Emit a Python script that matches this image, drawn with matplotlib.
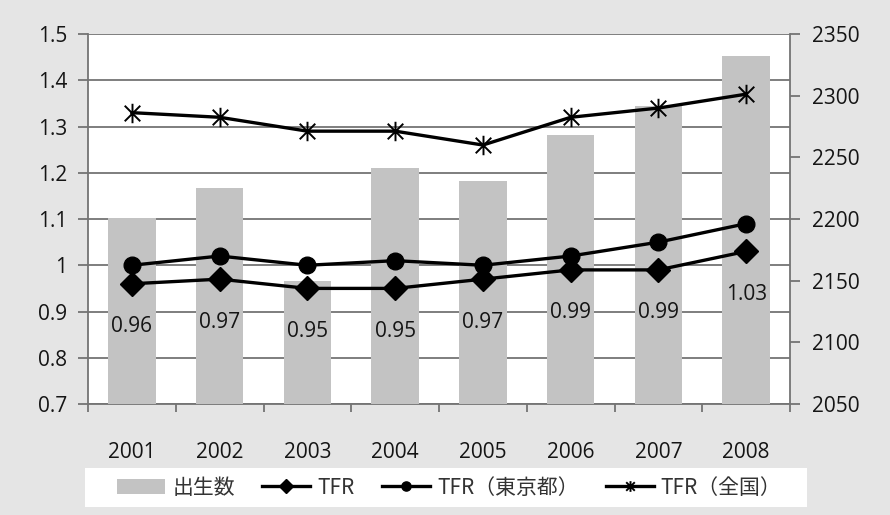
import matplotlib
matplotlib.use("Agg")
import matplotlib.pyplot as plt
from matplotlib.path import Path
from matplotlib.patches import Rectangle

# Data
years = ["2001", "2002", "2003", "2004", "2005", "2006", "2007", "2008"]
births = [2201, 2225, 2150, 2241, 2231, 2268, 2292, 2332]
tfr = [0.96, 0.97, 0.95, 0.95, 0.97, 0.99, 0.99, 1.03]
tfr_tokyo = [1.00, 1.02, 1.00, 1.01, 1.00, 1.02, 1.05, 1.09]
tfr_japan = [1.33, 1.32, 1.29, 1.29, 1.26, 1.32, 1.34, 1.37]
tfr_labels = ["0.96", "0.97", "0.95", "0.95", "0.97", "0.99", "0.99", "1.03"]

NUM_FONT = "Open Sans"
JP_FONT = ["Noto Sans CJK JP", "DejaVu Sans"]
GRID = "#747474"
BAR = "#c3c3c3"
TXT = "#151515"

# Excel style star marker: an X plus a vertical stroke
star = Path([(-1, -1), (1, 1), (-1, 1), (1, -1), (0, -1.25), (0, 1.25)],
            [Path.MOVETO, Path.LINETO, Path.MOVETO, Path.LINETO,
             Path.MOVETO, Path.LINETO])

fig = plt.figure(figsize=(8.9, 5.15), dpi=100, facecolor="#e5e5e5")
# white band behind the legend
fig.add_artist(Rectangle((0.095, 0.015), 0.812, 0.077, transform=fig.transFigure,
                         facecolor="white", edgecolor="none", zorder=0))

pos = [0.0989, 0.2155, 0.7888, 0.7184]
x = list(range(len(years)))

# bottom layer: left scale + grid
ax = fig.add_axes(pos)
ax.set_facecolor("white")
ax.set_xlim(-0.5, len(years) - 0.5)
ax.set_ylim(0.7, 1.5)
ax.set_yticks([0.7, 0.8, 0.9, 1.0, 1.1, 1.2, 1.3, 1.4, 1.5])
ax.set_yticklabels(["0.7", "0.8", "0.9", "1", "1.1", "1.2", "1.3", "1.4", "1.5"])
ax.yaxis.grid(True, color=GRID, linewidth=1.3)
ax.set_axisbelow(True)
ax.set_xticks(x)
ax.set_xticklabels(years)
ax.set_xticks([i + 0.5 for i in range(-1, len(years))], minor=True)
ax.tick_params(axis="x", which="major", length=0, pad=27, labelsize=15)
ax.tick_params(axis="x", which="minor", length=6, color=GRID, width=1.3)
ax.tick_params(axis="y", length=7, color=GRID, width=1.3, pad=8, labelsize=15)
for lab in ax.get_xticklabels() + ax.get_yticklabels():
    lab.set_fontfamily(NUM_FONT)
    lab.set_color(TXT)
for s in ["top", "right"]:
    ax.spines[s].set_visible(False)
for s in ["left", "bottom"]:
    ax.spines[s].set_color(GRID)
    ax.spines[s].set_linewidth(1.3)

# middle layer: births bars on right scale
ax2 = ax.twinx()
ax2.patch.set_visible(False)
bars = ax2.bar(x, births, width=0.54, color=BAR, edgecolor="none", label="出生数")
ax2.set_ylim(2050, 2350)
ax2.set_yticks([2050, 2100, 2150, 2200, 2250, 2300, 2350])
ax2.tick_params(axis="y", length=7, color=GRID, width=1.3, pad=9, labelsize=15)
for lab in ax2.get_yticklabels():
    lab.set_fontfamily(NUM_FONT)
    lab.set_color(TXT)
for s in ["top", "left", "bottom"]:
    ax2.spines[s].set_visible(False)
ax2.spines["right"].set_color(GRID)
ax2.spines["right"].set_linewidth(1.3)

# top layer: TFR lines on the left scale
ax3 = fig.add_axes(pos, sharex=ax, sharey=ax)
ax3.patch.set_visible(False)
ax3.axis("off")
l1, = ax3.plot(x, tfr, color="black", linewidth=2.4, marker="D", markersize=12.5,
               label="TFR")
l2, = ax3.plot(x, tfr_tokyo, color="black", linewidth=2.4, marker="o",
               markersize=12, label="TFR（東京都）")
l3, = ax3.plot(x, tfr_japan, color="black", linewidth=2.4, marker=star,
               markersize=14, markeredgewidth=1.4, label="TFR（全国）")
for xi, yi, t in zip(x, tfr, tfr_labels):
    ax3.annotate(t, (xi, yi), xytext=(0, -31), textcoords="offset points",
                 ha="center", va="center", fontsize=15, family=NUM_FONT,
                 color=TXT)

leg = fig.legend([bars, l1, l2, l3], ["出生数", "TFR", "TFR（東京都）", "TFR（全国）"],
                 loc="center", bbox_to_anchor=(0.505, 0.053), ncol=4,
                 frameon=False, prop={"family": JP_FONT, "size": 15},
                 handlelength=2.3, columnspacing=1.3, handletextpad=0.35,
                 markerscale=0.55)
for t in leg.get_texts():
    t.set_color("#333333")

fig.savefig("out.png", dpi=100, facecolor=fig.get_facecolor())
